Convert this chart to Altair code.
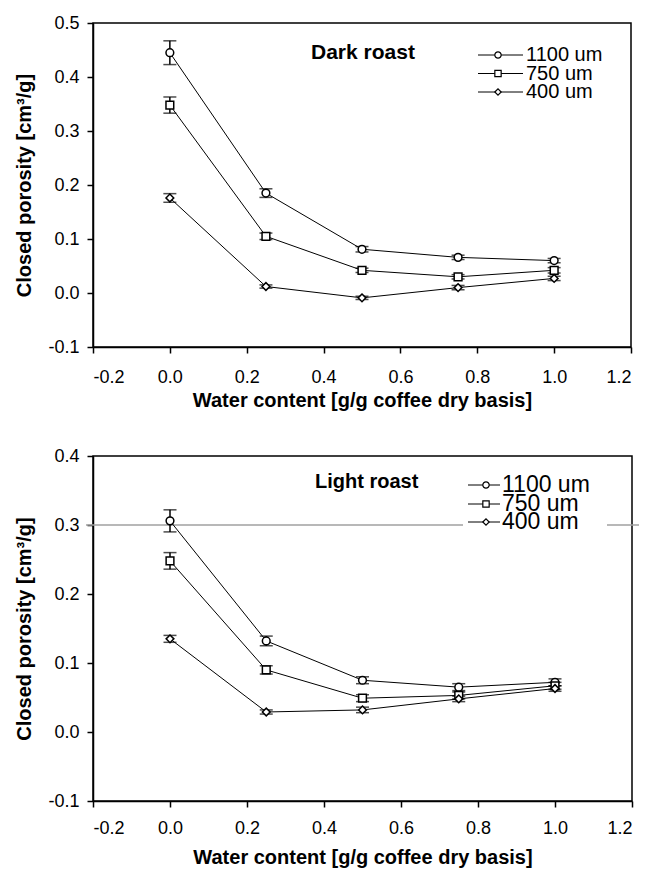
import altair as alt
import pandas as pd

# ---------------- data ----------------
water = [0.0, 0.25, 0.5, 0.75, 1.0]
sizes = ["1100 um", "750 um", "400 um"]
shapes = ["circle", "square", "diamond"]

dark_1100 = [0.445, 0.185, 0.081, 0.066, 0.060]
dark_750 = [0.348, 0.105, 0.042, 0.030, 0.042]
dark_400 = [0.176, 0.012, -0.009, 0.010, 0.027]
dark_1100_err = [0.022, 0.008, 0.005, 0.004, 0.004]
dark_750_err = [0.015, 0.006, 0.004, 0.004, 0.005]
dark_400_err = [0.008, 0.003, 0.003, 0.004, 0.004]

light_1100 = [0.306, 0.132, 0.075, 0.065, 0.072]
light_750 = [0.248, 0.090, 0.049, 0.053, 0.067]
light_400 = [0.135, 0.029, 0.032, 0.048, 0.063]
light_1100_err = [0.016, 0.007, 0.005, 0.005, 0.005]
light_750_err = [0.012, 0.006, 0.005, 0.005, 0.005]
light_400_err = [0.005, 0.003, 0.004, 0.004, 0.004]

x_ticks = [-0.2, 0.0, 0.2, 0.4, 0.6, 0.8, 1.0, 1.2]
dark_y_ticks = [-0.1, 0.0, 0.1, 0.2, 0.3, 0.4, 0.5]
light_y_ticks = [-0.1, 0.0, 0.1, 0.2, 0.3, 0.4]

FONT = "Liberation Sans"
LABEL_EXPR = "replace(format(datum.value, '.1f'), '\u2212', '-')"


def make_df(series, errors):
    rows = []
    for name, vals, errs in zip(sizes, series, errors):
        for w, v, e in zip(water, vals, errs):
            rows.append({"water": w, "porosity": v, "lo": v - e, "hi": v + e, "size": name})
    return pd.DataFrame(rows)


def panel(df, title, y_ticks, width, height, label_pad, title_pad, title_pos, title_size,
          leg_rows, leg_line, leg_marker, leg_text, leg_font, grey_line=None):
    xs = alt.Scale(domain=[x_ticks[0], x_ticks[-1]], nice=False, zero=False)
    ys = alt.Scale(domain=[y_ticks[0], y_ticks[-1]], nice=False, zero=False)
    x_enc = alt.X("water:Q", scale=xs,
                  axis=alt.Axis(values=x_ticks, labelExpr=LABEL_EXPR,
                                title="Water content [g/g coffee dry basis]",
                                labelPadding=label_pad, titlePadding=title_pad))
    y_enc = alt.Y("porosity:Q", scale=ys,
                  axis=alt.Axis(values=y_ticks, labelExpr=LABEL_EXPR,
                                title="Closed porosity [cm\u00b3/g]",
                                labelPadding=8, titlePadding=13))
    shape_enc = alt.Shape("size:N", scale=alt.Scale(domain=sizes, range=shapes), legend=None)

    base = alt.Chart(df)
    layers = []
    if grey_line is not None:
        gl = pd.DataFrame({"v": [grey_line[0]]})
        for x0, x1 in grey_line[1]:
            layers.append(alt.Chart(gl).mark_rule(color="#a0a0a0", strokeWidth=1.5).encode(
                x=alt.value(x0), x2=alt.value(x1), y=alt.Y("v:Q", scale=ys)))
    lines = base.mark_line(color="black", strokeWidth=1).encode(
        x=x_enc, y=y_enc, detail="size:N", order="water:Q")
    rules = base.mark_rule(color="black", strokeWidth=1.5).encode(
        x="water:Q", y="lo:Q", y2="hi:Q")
    cap_lo = base.mark_tick(color="black", orient="horizontal", size=13, thickness=1.5).encode(
        x="water:Q", y="lo:Q")
    cap_hi = base.mark_tick(color="black", orient="horizontal", size=13, thickness=1.5).encode(
        x="water:Q", y="hi:Q")
    pts = base.mark_point(filled=True, fill="white", stroke="black", strokeWidth=1.5, size=60,
                          opacity=1).encode(x="water:Q", y="porosity:Q", shape=shape_enc)
    layers += [lines, rules, cap_lo, cap_hi, pts]

    tdf = pd.DataFrame({"t": [title]})
    layers.append(alt.Chart(tdf).mark_text(align="left", baseline="middle", font=FONT,
                                           fontSize=title_size, fontWeight="bold", color="black").encode(
        x=alt.value(title_pos[0]), y=alt.value(title_pos[1]), text="t:N"))

    for label, shp, ly in zip(sizes, shapes, leg_rows):
        ldf = pd.DataFrame({"label": [label]})
        layers.append(alt.Chart(ldf).mark_rule(color="black", strokeWidth=1).encode(
            x=alt.value(leg_line[0]), x2=alt.value(leg_line[1]), y=alt.value(ly)))
        layers.append(alt.Chart(ldf).mark_point(shape=shp, filled=True, fill="white", stroke="black",
                                                strokeWidth=1.2, size=40, opacity=1).encode(
            x=alt.value(leg_marker), y=alt.value(ly)))
        layers.append(alt.Chart(ldf).mark_text(align="left", baseline="middle", font=FONT,
                                               fontSize=leg_font, color="black").encode(
            x=alt.value(leg_text), y=alt.value(ly), text="label:N"))

    return alt.layer(*layers).properties(width=width, height=height)


dark = panel(make_df([dark_1100, dark_750, dark_400], [dark_1100_err, dark_750_err, dark_400_err]),
             "Dark roast", dark_y_ticks, 538, 324, 15, 4, (218, 30), 21,
             [32, 50.5, 69], (385, 430), 405, 433, 20)

light = panel(make_df([light_1100, light_750, light_400], [light_1100_err, light_750_err, light_400_err]),
              "Light roast", light_y_ticks, 539, 345, 12, 10, (222, 26), 20,
              [29, 48, 66], (375, 407), 393, 409, 23,
              grey_line=(0.3, [(-7, 370), (514, 546)]))

chart = alt.vconcat(dark, light, spacing=35).properties(
    padding={"left": 6, "top": 5, "right": 0, "bottom": 5}
).configure(background="white").configure_view(
    stroke="black", strokeWidth=1.5
).configure_axis(
    grid=False, domainColor="black", domainWidth=1.5, tickColor="black", tickWidth=1.5, tickSize=6,
    labelFont=FONT, labelFontSize=18, labelColor="black",
    titleFont=FONT, titleFontSize=20, titleFontWeight="bold", titleColor="black"
)

chart.save("out.html", embed_options={"renderer": "svg", "actions": False})
